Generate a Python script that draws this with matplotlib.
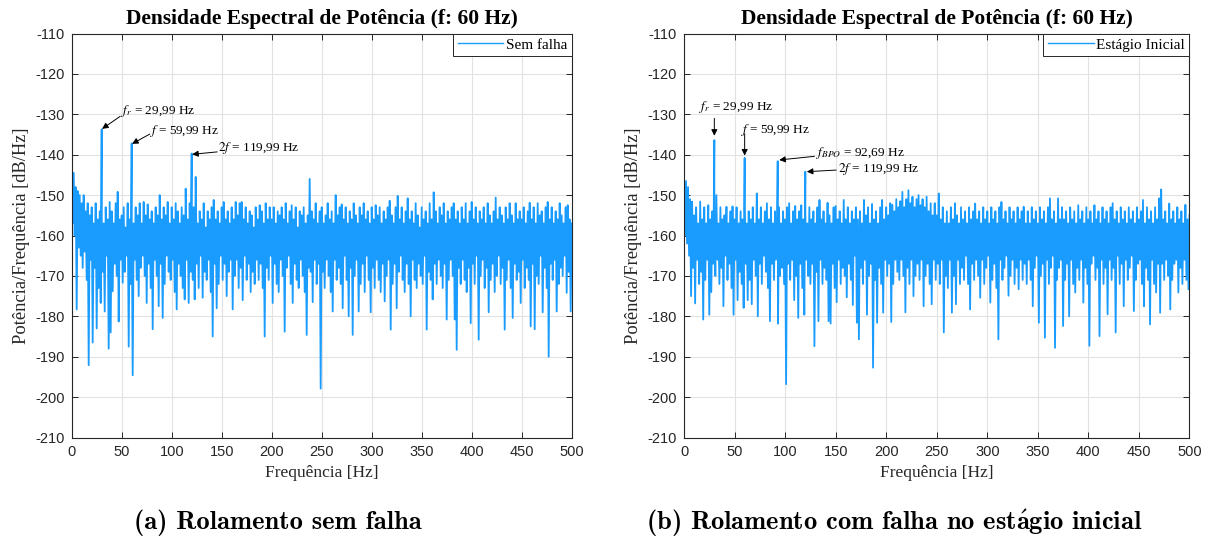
import numpy as np
import matplotlib
matplotlib.use("Agg")
import matplotlib.pyplot as plt

# ---------------------------------------------------------------------------
# Power spectral density (dB/Hz), 1 Hz bins from 0 to 500 Hz.
# Bins alternate between the local maximum and minimum of the noise floor.
# ---------------------------------------------------------------------------
psd_healthy = [
    -141.0, -157, -144.5, -160, -148, -178.3, -149, -163, -150, -165,
    -152, -168, -150, -164, -154, -171, -152, -192.1, -155, -166,
    -153, -186.5, -157, -168, -152, -183, -156, -173, -154, -176.7,
    -155, -169, -157, -178.8, -153, -165, -156, -188, -151.7, -184,
    -154, -173.8, -157, -167, -152, -170, -149.2, -181.3, -156, -166,
    -155, -171.7, -153, -169, -158, -165, -152, -187.5, -156, -172,
    -154, -194.6, -157, -166, -153, -171, -155, -175, -152, -168,
    -157, -165, -151.7, -170, -155, -176.7, -152.3, -167, -156, -173,
    -154, -183.2, -157, -166, -153, -170, -155, -177.5, -150, -167,
    -156, -180.4, -153, -172, -155, -165, -151.7, -169, -157, -171,
    -153, -166, -156, -174, -152, -178.3, -154, -167, -157, -170,
    -153, -173, -155, -175.8, -148.4, -166, -156, -176.7, -152, -169,
    -155, -171, -153, -175.8, -145.5, -167, -157, -173, -154, -165,
    -156, -175.4, -152, -169, -158, -171, -154, -166, -156, -174,
    -153, -185, -151.2, -167, -156, -178, -154, -172, -157, -165,
    -153, -171, -151.7, -167, -156, -175, -154, -169, -157, -166,
    -153, -178.3, -156, -170, -151.7, -166, -155, -173, -152, -168,
    -151.7, -176, -156, -165, -153, -171, -157, -167, -154, -174,
    -155, -169, -158, -172, -153, -166, -156, -171, -152.5, -167,
    -154, -173, -157, -185, -152, -168, -156, -171, -153, -165,
    -156, -176.7, -153, -167, -157, -172, -154, -174, -155, -166,
    -153, -170, -156, -183.8, -152, -168, -157, -165, -154, -172,
    -152.5, -176.7, -156, -167, -153, -171, -158, -173, -154, -166,
    -155, -170, -153, -174, -157, -184.6, -155, -168, -146, -169,
    -154, -176.5, -156, -166, -152, -172, -157, -167, -154, -197.9,
    -153, -169, -157, -173, -155, -166, -152, -170, -156, -174,
    -154, -178.8, -157, -166, -150, -171, -155, -168, -153, -172,
    -152.3, -178, -156, -165, -153, -171, -157, -180, -154, -168,
    -156, -184.6, -152, -170, -155, -166, -157, -178.8, -153, -172,
    -155, -167, -152, -174, -156, -165, -154, -171, -157, -179,
    -153, -168, -156, -173, -152.5, -166, -155, -171, -153, -174,
    -157, -167, -154, -176.3, -156, -170, -153, -166, -151.4, -183.3,
    -155, -172, -157, -167, -153, -178, -150.2, -169, -156, -165,
    -153, -171, -157, -174, -154, -167, -150.8, -172, -156, -180,
    -154, -166, -157, -171, -152, -173, -155, -167, -158, -170,
    -153, -172, -156, -165, -154, -183.3, -157, -169, -152, -171,
    -156, -175.8, -149.3, -167, -154, -172, -157, -166, -153, -170,
    -155, -173, -152, -167, -157, -180.8, -154, -171, -156, -166,
    -153, -170, -152, -180.8, -156, -188.3, -154, -168, -157, -172,
    -153, -166, -156, -171, -152, -174, -157, -168, -154, -181.7,
    -151.7, -167, -156, -172, -153, -165, -157, -185.8, -154, -170,
    -156, -166, -153, -173, -157, -168, -152, -179, -155, -171,
    -157, -167, -154, -174, -150.6, -170, -156, -165, -153, -172,
    -155, -168, -157, -183.3, -153, -171, -156, -166, -152, -173,
    -155, -180.4, -157, -167, -152, -171, -156, -169, -154, -176.7,
    -156, -166, -153, -173, -157, -168, -154, -171, -151.9, -182.5,
    -156, -167, -153, -183.2, -157, -170, -152, -172, -155, -165,
    -154, -179, -157, -168, -153, -173, -151.7, -190, -156, -167,
    -153, -171, -157, -166, -154, -178.8, -156, -172, -152, -168,
    -155, -170, -157, -165, -153, -174.2, -152.5, -169, -156, -178.8,
    -157,
]

psd_early_fault = [
    -145.6, -160, -146.5, -162, -148, -165, -151, -175, -151.6, -168,
    -155, -176.8, -153, -166, -157, -172, -151.6, -169, -156, -180.8,
    -153, -171, -157, -166, -152.5, -179.6, -156, -174, -154, -167,
    -156, -170, -150, -166, -157, -172, -153, -168, -156, -177.5,
    -155, -165, -152.9, -171, -157, -167, -154, -173, -152.8, -179.6,
    -156, -166, -153, -176, -157, -169, -154, -172, -156, -177.9,
    -153, -167, -157, -176, -154, -171, -156, -177, -153, -166,
    -157, -170, -149.6, -180, -156, -167, -153, -172, -157, -165,
    -154, -169, -152, -173, -156, -181.2, -153, -167, -157, -171,
    -154, -166, -156, -181.8, -153, -170, -157, -168, -154, -172,
    -156, -196.8, -153, -167, -152, -171, -157, -166, -154, -176,
    -152.7, -170, -156, -180.4, -154, -167, -152.5, -173, -156, -179.6,
    -154, -166, -157, -170, -153, -172, -156, -167, -154, -187.4,
    -157, -169, -153, -181.2, -151.2, -166, -156, -172, -154, -168,
    -157, -171, -151.9, -181.2, -155, -181.8, -157, -167, -153, -173,
    -152.7, -176.5, -156, -166, -154, -172, -157, -168, -151.2, -170,
    -156, -175.3, -153, -167, -157, -171, -154, -177.2, -156, -165,
    -153, -181.6, -156, -185.7, -154, -168, -157, -172, -151.2, -166,
    -155, -179.6, -153, -170, -157, -167, -152.2, -192.7, -156, -171,
    -154, -181.6, -157, -168, -153, -172, -151.2, -179.1, -156, -166,
    -153, -170, -155, -167, -152, -181.4, -152.4, -172, -154, -166,
    -151, -169, -153, -171, -151.5, -166, -149.2, -170, -153, -179,
    -151, -168, -148.8, -172, -152, -166, -150.4, -175, -153, -170,
    -151, -167, -150, -171, -152.5, -166, -151, -177.5, -153, -170,
    -150.4, -167, -154, -172, -152, -177, -155, -166, -152, -171,
    -155, -167, -149.6, -172, -156, -166, -153, -184, -157, -170,
    -154, -173, -157, -166, -153, -179.1, -156, -170, -152, -177,
    -155, -166, -157, -172, -153, -168, -156, -171, -154, -165,
    -157, -172, -153, -178.3, -156, -167, -154, -171, -152.1, -166,
    -156, -170, -154, -175.4, -157, -166, -153, -172, -156, -168,
    -154, -165, -157, -176.6, -153, -171, -156, -167, -154, -173,
    -157, -185.7, -153, -166, -151.7, -171, -156, -168, -154, -165,
    -157, -174.9, -153, -170, -156, -166, -154, -172, -157, -168,
    -153, -173.3, -156, -166, -154, -171, -152.9, -167, -157, -172,
    -154, -166, -157, -171, -153, -177.5, -156, -168, -154, -165,
    -157, -181.6, -153, -170, -156, -167, -154, -185.3, -157, -166,
    -153, -172, -150.8, -168, -156, -165, -154, -187.8, -157, -171,
    -150.8, -168, -156, -166, -153, -182.4, -156, -171, -154, -167,
    -157, -180, -153, -166, -156, -172, -154, -174.1, -157, -168,
    -152.5, -171, -156, -166, -154, -176.6, -157, -168, -153, -172,
    -156, -187.3, -154, -167, -157, -165, -152.5, -171, -156, -168,
    -154, -184.9, -157, -166, -153, -172, -156, -168, -154, -179.5,
    -157, -166, -153, -171, -152, -168, -156, -184, -154, -165,
    -157, -172, -153, -167, -156, -177.5, -154, -166, -157, -171,
    -153, -168, -156, -165, -154, -178.7, -157, -171, -153, -167,
    -156, -166, -154, -172, -151.2, -177.5, -157, -168, -153, -171,
    -156, -182, -154, -166, -157, -172, -153, -174.1, -156, -167,
    -150.8, -179.1, -148.6, -167, -156, -171, -154, -166, -157, -170,
    -152.1, -178.3, -156, -171, -154, -167, -157, -166, -153, -174.1,
    -156, -168, -154, -172, -157, -166, -152.4, -171, -156, -173.3,
    -155,
]

# Characteristic tones (frequency in Hz, level in dB/Hz)
tones_healthy_hz = [29.99, 59.99, 119.99]
tones_healthy_db = [-133.7, -137.2, -139.7]
tones_fault_hz = [29.99, 59.99, 92.69, 119.99]
tones_fault_db = [-136.4, -140.8, -141.6, -144.2]

x_ticks = list(range(0, 501, 50))
y_ticks = list(range(-210, -109, 10))

LINE = "#1a9cff"
INK = "#262626"
SERIF = "Liberation Serif"

plt.rcParams["font.family"] = "Liberation Sans"
plt.rcParams["mathtext.fontset"] = "stix"
plt.rcParams["axes.unicode_minus"] = False


def spectrum(floor, tone_hz, tone_db):
    f = np.concatenate([np.arange(len(floor), dtype=float), np.asarray(tone_hz, float)])
    p = np.concatenate([np.asarray(floor, float), np.asarray(tone_db, float)])
    order = np.argsort(f, kind="stable")
    return f[order], p[order]


def hz(v):
    return f"{v:.2f}".replace(".", ",") + " Hz"


def style_axes(ax):
    ax.set_xlim(0, 500)
    ax.set_ylim(-210, -110)
    ax.set_xticks(x_ticks)
    ax.set_yticks(y_ticks)
    ax.grid(True, color="#e2e2e2", lw=0.8)
    ax.set_axisbelow(True)
    for s in ax.spines.values():
        s.set_color(INK)
        s.set_linewidth(0.8)
    ax.tick_params(direction="in", length=4, width=0.7, colors=INK,
                   top=True, right=True, labelsize=10.5)
    ax.tick_params(axis="y", pad=5)
    ax.tick_params(axis="x", pad=5.5)
    ax.set_title("Densidade Espectral de Potência (f: 60 Hz)", family=SERIF,
                 fontweight="bold", fontsize=15.5, pad=7, color="black")
    ax.set_xlabel("Frequência [Hz]", family=SERIF, fontsize=12.5, color=INK)
    ax.set_ylabel("Potência/Frequência [dB/Hz]", family=SERIF, fontsize=13.3, color=INK)
    ax.xaxis.set_label_coords(0.5, -0.068)
    ax.yaxis.set_label_coords(-0.084, 0.5)
    leg = ax.legend(loc="upper right", prop={"family": SERIF, "size": 11},
                    borderaxespad=0, fancybox=False, edgecolor=INK, framealpha=1,
                    handlelength=3.0, handletextpad=0.15, borderpad=0.3)
    leg.get_frame().set_linewidth(0.7)
    for handle in leg.get_lines():
        handle.set_linewidth(1.0)


def mark(ax, text, text_xy, tail, tip):
    ax.text(text_xy[0], text_xy[1], text, family=SERIF, fontsize=9.5,
            ha="left", va="center", color="black")
    ax.annotate("", xy=tip, xytext=tail,
                arrowprops=dict(arrowstyle="-|>", color="black", lw=0.7,
                                mutation_scale=9, shrinkA=0, shrinkB=0))


fig = plt.figure(figsize=(12.13, 5.39), dpi=100)
ax_a = fig.add_axes([0.0591, 0.1883, 0.4122, 0.7495])
ax_b = fig.add_axes([0.5639, 0.1883, 0.4167, 0.7495])

# (a) healthy bearing
fa, pa = spectrum(psd_healthy, tones_healthy_hz, tones_healthy_db)
ax_a.plot(fa, pa, color=LINE, lw=1.3, label="Sem falha")
style_axes(ax_a)
fr_a, f1_a, f2_a = tones_healthy_hz
mark(ax_a, r"$f_r$ = " + hz(fr_a), (49, -129.3), (48.5, -130.5), (fr_a + 0.4, tones_healthy_db[0] + 0.1))
mark(ax_a, r"$f$ = " + hz(f1_a), (78.5, -134.1), (78, -134.9), (f1_a + 0.4, tones_healthy_db[1] - 0.1))
mark(ax_a, r"$2f$ = " + hz(f2_a), (146.8, -138.4), (145.5, -139.3), (f2_a + 0.5, tones_healthy_db[2] - 0.2))

# (b) bearing with early-stage fault
fb, pb = spectrum(psd_early_fault, tones_fault_hz, tones_fault_db)
ax_b.plot(fb, pb, color=LINE, lw=1.3, label="Estágio Inicial")
style_axes(ax_b)
fr_b, f1_b, fbpo_b, f2_b = tones_fault_hz
mark(ax_b, r"$f_r$ = " + hz(fr_b), (14.8, -128.3), (fr_b, -131.0), (fr_b, tones_fault_db[0] + 1.1))
mark(ax_b, r"$f$ = " + hz(f1_b), (56.4, -134.0), (f1_b, -134.8), (f1_b, tones_fault_db[1] + 0.6))
mark(ax_b, r"$f_{BPO}$ = " + hz(fbpo_b), (130.3, -139.6), (129, -140.4), (fbpo_b + 1.5, tones_fault_db[2] + 0.3))
mark(ax_b, r"$2f$ = " + hz(f2_b), (152.3, -143.6), (150.5, -143.8), (f2_b + 1.5, tones_fault_db[3]))

# Sub-figure captions
cap = dict(family="cmb10", math_fontfamily="cm", fontsize=19.1, ha="center", va="center")
fig.text(278.3 / 1213, 1 - 523 / 539, "(a) Rolamento sem falha", **cap)
fig.text(894 / 1213, 1 - 523 / 539,
         r"(b) Rolamento com falha no est$\mathbf{\acute{a}}$gio inicial", **cap)

fig.savefig("out.png", dpi=100, facecolor="white")
